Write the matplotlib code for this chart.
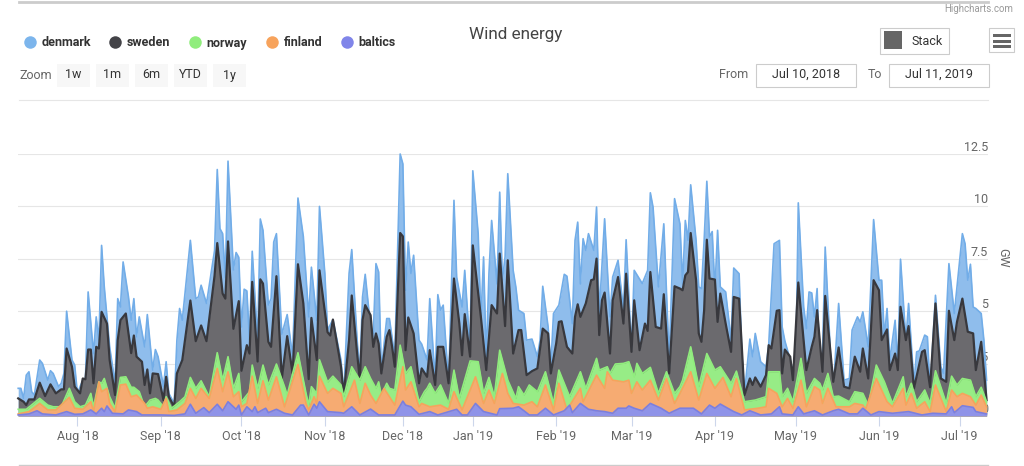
import matplotlib
matplotlib.use("Agg")
import matplotlib.pyplot as plt
from matplotlib.lines import Line2D
from matplotlib.patches import Rectangle

plt.rcParams['font.family'] = ['Roboto', 'DejaVu Sans']

# x is the sample number: the axis is ordinal, so Dec '18 is a bit shorter
month_pos = [22, 53, 83, 114, 143, 169, 200, 228, 259, 289, 320, 350]
month_labels = ["Aug '18", "Sep '18", "Oct '18", "Nov '18", "Dec '18", "Jan '19",
                "Feb '19", "Mar '19", "Apr '19", "May '19", "Jun '19", "Jul '19"]
y_ticks = [0, 2.5, 5, 7.5, 10, 12.5]
y_labels = ["0", "2.5", "5", "7.5", "10", "12.5"]

# stack tops in GW
denmark_x = [0, 1, 2, 3, 4, 5, 6, 8, 9, 11, 12, 13, 15, 16, 17, 18, 20, 21, 22, 24, 25, 26, 28, 29, 30, 31, 32, 34, 36, 37,
             38, 39, 41, 42, 43, 44, 45, 47, 48, 50, 51, 52, 54, 55, 56, 58, 59, 60, 61, 64, 66, 67, 68, 70, 73, 74, 75, 76, 77, 78,
             80, 81, 82, 83, 84, 85, 86, 87, 89, 90, 91, 93, 94, 95, 96, 98, 100, 102, 104, 106, 108, 109, 111, 112, 114, 115, 117, 120,
             121, 123, 124, 126, 127, 128, 129, 131, 132, 133, 134, 135, 137, 138, 140, 142, 143, 144, 145, 146, 147, 149, 150, 152, 153, 155, 156, 157, 158, 160,
             162, 163, 165, 166, 168, 169, 171, 172, 173, 174, 175, 176, 178, 179, 180, 181, 182, 184, 185, 186, 188, 189, 191, 193, 194, 195, 197, 198, 199, 201,
             203, 204, 206, 207, 208, 209, 210, 211, 212, 214, 215, 216, 218, 220, 221, 223, 225, 226, 228, 229, 232, 234, 235, 236, 238, 240, 242, 244, 246,
             247, 248, 249, 250, 252, 253, 254, 255, 256, 257, 258, 259, 260, 261, 263, 265, 266, 268, 269, 270, 272, 273, 274, 276, 278, 279, 281, 283, 284, 285,
             287, 289, 290, 292, 293, 294, 295, 296, 297, 298, 299, 300, 302, 303, 305, 307, 309, 310, 312, 313, 314, 316, 318, 320, 321, 322, 323, 324, 326, 327,
             328, 330, 331, 333, 334, 335, 337, 338, 339, 341, 343, 344, 346, 348, 349, 351, 352, 353, 354, 355, 356, 358, 359, 360]
denmark_top = [1.32, 1.32, .84, 1.95, 2.11, 1.16, 1.0, 2.67, 2.51, 1.71, 2.16, 2.03, 1.40, 1.56, 2.03, 5.0, 2.67, 2.43, 1.08, 1.71, 1.79, 5.92, 2.98, 4.73, 3.6, 8.14, 6.16, 3.30, 1.56, 5.6,
               5.2, 7.35, 5.68, 4.57, 5.6, 3.78, 4.73, 3.30, 4.84, 2.19, 3.17, 2.83, 1.40, 2.59, 1.08, .60, 3.62, 5.13, 4.57, 8.38, 5.6, 5.68, 6.24, 5.37, 7.9, 11.76, 8.94, 8.7, 6.6, 12.16,
               6.97, 7.8, 7.57, 4.25, 6.05, 5.97, 3.62, 7.86, 3.62, 9.4, 8.86, 5.3, 5.6, 8.3, 8.7, 3.9, 4.84, 2.83, 10.4, 8.56, 4.73, 7.1, 4.57, 10.0, 6.8, 4.1, 4.6, 2.67,
               1.0, 6.8, 7.94, 3.62, 2.03, 5.68, 6.76, 4.25, 3.94, 7.27, 6.87, 2.19, 4.65, 4.65, 2.83, 12.5, 12.03, 6.0, 8.3, 6.8, 7.67, 3.62, 3.43, 2.67, 5.6, 1.71, 5.79, 5.05, 5.29, 1.56,
               10.29, 6.63, 5.2, 6.95, 3.14, 11.7, 8.7, 4.57, 7.59, 2.67, 6.79, 9.33, 6.3, 10.68, 6.48, 7.6, 11.56, 6.95, 6.16, 5.05, 4.89, 3.62, 3.67, 2.83, 3.62, 6.19, 4.25, 2.35, 4.89, 5.29,
               6.76, 6.67, 4.41, 8.38, 9.25, 6.3, 8.46, 7.9, 8.7, 7.9, 9.97, 4.89, 9.41, 4.73, 6.63, 7.43, 5.05, 8.41, 3.14, 6.95, 6.32, 6.95, 10.65, 9.97, 6.16, 9.17, 2.67, 10.37, 9.17,
               6.3, 9.33, 8.38, 11.03, 8.38, 6.16, 6.08, 8.38, 11.2, 8.54, 8.8, 6.0, 8.86, 6.16, 5.92, 3.62, 7.06, 6.79, 2.98, 1.08, 3.67, 2.83, 3.94, 2.59, 2.35, 3.38, 8.22, 8.38, 4.25, 3.59,
               2.67, 1.63, 10.17, 5.2, 4.17, 5.92, 5.87, 4.73, 6.08, 2.19, 3.0, 8.06, 2.83, 1.24, 5.37, 1.71, 1.79, 4.1, 4.73, 4.49, 4.97, 3.3, 9.37, 6.48, 6.48, 3.78, 5.13, 2.67, 4.57, 2.35,
               7.48, 3.62, 5.37, 1.56, 3.06, 3.11, 3.86, 3.78, 1.24, 5.76, 2.35, 2.03, 7.27, 4.89, 6.16, 8.7, 8.22, 6.48, 7.24, 5.2, 5.13, 4.89, 3.62, 1.71]

sweden_x = [0, 2, 3, 4, 6, 8, 10, 12, 14, 16, 17, 18, 20, 21, 23, 24, 25, 26, 27, 28, 29, 30, 31, 33, 34, 36, 37, 38, 40, 42,
            43, 44, 46, 47, 48, 49, 50, 52, 54, 55, 56, 58, 59, 61, 64, 66, 68, 70, 73, 74, 76, 77, 78, 80, 82, 83, 85, 86, 87, 89,
            90, 91, 93, 94, 96, 98, 100, 102, 104, 106, 108, 109, 111, 112, 115, 116, 117, 120,
            121, 123, 124, 126, 127, 128, 129, 131, 132, 133, 134, 135, 137, 138, 139, 140, 142, 143, 144, 145, 147, 149, 150, 152, 153, 155, 156, 158, 160,
            162, 164, 165, 166, 168, 169, 172, 174, 176, 178, 179, 181, 182, 184, 186, 187, 189, 191, 193, 195, 197, 198, 200, 201, 202, 204, 206,
            207, 208, 209, 211, 213, 214, 215, 216, 217, 218, 220, 221, 223, 225, 226, 228, 229, 231, 233, 234, 235, 237, 239, 240, 242, 244, 246,
            247, 248, 249, 250, 252, 253, 254, 255, 256, 257, 259, 260, 261, 263, 265, 266, 268, 270, 272, 273, 274, 276, 278, 279, 280, 282, 283, 284, 285, 287,
            288, 290, 293, 295, 296, 297, 299, 300, 303, 305, 307, 309, 311, 313, 314, 316, 318, 320, 321, 323, 324, 326, 327, 328, 330, 331, 333, 336, 337, 339,
            341, 343, 345, 346, 348, 349, 351, 353, 355, 356, 358, 360]
sweden_top = [.84, .68, .52, .79, .79, 1.59, .95, 1.51, 1.08, 1.27, 1.27, 3.22, 2.35, 1.40, 1.08, 1.79, 1.75, 3.17, 3.17, 1.56, 3.30, 3.22, 4.97, 4.41, 2.67, 1.0, 3.62, 4.57, 4.89, 3.0,
              3.84, 2.83, 2.59, 1.48, 2.22, 1.08, 2.03, 2.0, .76, 1.87, .92, .44, 2.03, 2.67, 5.51, 3.57, 4.32, 3.57, 6.7, 8.25, 5.84, 5.6, 8.33, 4.16, 5.48, 2.16, 3.38, 2.98, 6.4, 2.6,
              6.52, 6.32, 3.54, 3.3, 6.67, 1.79, 3.81, 2.03, 7.24, 5.37, 1.76, 4.68, 2.67, 6.95, 4.0, 3.84, 4.6, 2.35,
              1.0, 3.62, 5.75, 2.98, 1.71, 4.57, 5.29, 4.81, 3.3, 3.94, 3.46, 2.03, 3.78, 4.1, 3.3, 2.35, 8.73, 8.57, 3.14, 4.7, 3.94, 1.56, 2.27, 1.87, 3.14, 1.48, 3.3, 3.3, 1.56,
              6.56, 4.41, 2.9, 4.86, 2.83, 8.14, 4.73, 2.19, 5.29, 4.89, 7.75, 4.29, 7.43, 2.98, 4.1, 4.1, 1.95, 2.14, 2.27, 4.17, 3.94, 2.03, 3.46, 4.49, 4.52, 3.3, 2.98,
              4.73, 5.33, 4.73, 5.37, 6.48, 6.52, 7.51, 3.86, 5.52, 5.89, 2.98, 5.52, 6.63, 4.41, 6.79, 3.06, 5.52, 3.14, 4.41, 4.06, 6.87, 4.25, 4.17, 5.81, 2.03, 6.19, 6.08,
              6.0, 6.71, 6.87, 8.73, 6.48, 3.94, 3.54, 5.05, 8.41, 6.56, 6.51, 4.49, 5.84, 4.41, 3.06, 5.68, 5.6, 1.0, 1.79, 1.48, 1.84, 1.4, 1.95, 3.38, 3.22, 5.02, 5.05, 2.03, 3.17, 2.83,
              1.71, 6.37, 2.19, 3.3, 3.78, 5.05, 2.11, 5.73, 1.63, 3.27, 1.4, 1.32, 2.83, 2.11, 3.22, 1.79, 6.48, 6.0, 3.62, 4.13, 2.19, 2.98, 2.19, 5.21, 3.62, 4.29, 1.32, 3.06, 3.14, 1.37,
              5.37, 1.79, 1.63, 5.02, 3.62, 4.49, 5.6, 4.02, 3.94, 2.19, 3.54, .76]

norway_x = [0, 3, 8, 11, 13, 16, 19, 21, 23, 25, 27, 28, 30, 31, 32, 34, 36, 38, 40, 42, 43, 45, 47, 49, 51, 52, 54, 55, 57, 60,
            62, 64, 66, 68, 71, 74, 76, 78, 80, 82, 83, 86, 87, 89, 91, 93, 96, 99, 100, 104, 107, 108, 109, 111, 112, 115, 117, 120,
            121, 124, 127, 129, 131, 133, 134, 135, 137, 138, 140, 142, 144, 146, 149, 151, 152, 153, 155, 157, 160, 162, 164, 168, 171, 173, 175, 177, 179, 182,
            185, 186, 188, 190, 193, 196, 199, 201, 205, 209, 211, 215, 216, 219, 220, 222, 225, 227, 229, 230, 232, 235, 238, 241, 244, 246,
            247, 250, 253, 256, 259, 261, 265, 267, 270, 274, 278, 279, 283, 284, 286, 288, 291, 293, 296, 298, 299, 301, 303, 305, 309, 311, 314, 316, 319, 322,
            325, 329, 330, 332, 334, 337, 339, 341, 345, 347, 349, 351, 354, 356, 358, 360]
norway_top = [.32, .32, .84, .52, .44, .44, 1.32, .68, .44, .52, 1.08, .44, 1.63, 1.56, 1.79, .92, .37, 1.84, 1.87, 1.37, 1.37, 1.16, .44, .76, .84, .76, .44, .92, .37, .68,
              .92, 1.84, 1.32, 1.68, .92, 3.02, 1.71, 2.83, 1.32, 2.03, .68, 1.16, 2.43, 1.32, 2.43, 1.48, 2.48, 1.40, 1.0, 3.02, 1.08, .52, 1.40, 1.08, 2.68, 1.62, 1.9, 1.48,
              .92, 2.35, 1.71, 2.35, 1.79, 1.32, 1.63, 1.0, 1.56, 1.32, 1.24, 3.38, 2.03, 2.35, .68, 1.16, 1.32, 1.56, 1.08, 1.48, .6, 2.19, .84, 2.63, 2.59, 1.08, 1.84, .92, 3.14, 1.71,
              .84, 1.4, 1.0, 1.48, 1.16, 2.11, .6, 2.19, .92, 2.11, 1.32, 2.75, 2.19, 2.35, 2.03, 2.48, 2.51, 2.59, 1.87, 2.51, 2.03, 2.32, 1.08, 2.11, 1.08, 1.4,
              1.71, 3.3, 1.4, 2.98, 2.19, 2.35, 1.56, 2.14, .68, .76, .92, 2.11, 2.11, .92, 1.32, .68, 2.75, 1.08, 1.79, 1.56, 1.24, 2.03, .92, .95, .68, 1.16, 1.08, .52, 2.43, 1.63,
              .6, 1.87, .92, 1.56, .68, 1.24, .6, 2.16, .6, 1.9, 1.48, 1.79, 1.71, .92, 1.37, .68]

finland_x = [0, 4, 8, 11, 14, 19, 21, 24, 27, 28, 30, 31, 33, 34, 36, 38, 40, 42, 44, 47, 48, 50, 53, 55, 56, 59, 62, 64, 66, 68,
             71, 74, 76, 78, 80, 82, 83, 85, 87, 89, 91, 93, 96, 99, 104, 107, 108, 110, 111, 112, 115, 117, 120,
             121, 125, 127, 129, 131, 133, 136, 138, 140, 143, 144, 146, 149, 150, 153, 157, 160, 162, 165, 170, 173, 175, 177, 180, 182, 184,
             188, 191, 193, 196, 199, 201, 204, 209, 210, 215, 218, 219, 221, 225, 227, 228, 230, 232, 235, 238, 241, 244, 246,
             250, 253, 256, 259, 262, 265, 267, 270, 275, 278, 279, 282, 284, 286, 288, 291, 293, 296, 298, 299, 301, 304, 309, 311, 314, 315, 319, 323,
             325, 329, 330, 332, 334, 337, 339, 341, 345, 347, 349, 351, 354, 356, 358, 360]
finland_top = [.1, .21, .6, .29, .29, .89, .37, .32, .68, .21, 1.63, 1.16, 1.32, .6, .21, 1.48, 1.52, .92, 1.0, .6, .37, .44, .32, .84, .21, .29, .6, 1.32, .84, 1.32,
               .84, 2.27, 1.16, 2.11, .92, 1.16, .44, .6, 1.90, .6, 1.68, .76, 1.87, .44, 2.46, .6, .29, .92, .6, 1.9, 1.08, 1.32, 1.08,
               .44, 1.71, .6, 1.56, 1.0, .6, 1.32, .92, .52, 2.35, 1.24, 1.63, .44, .6, .44, .52, .32, 1.16, .29, 1.87, .6, 1.24, .6, 2.03, 1.08, .6,
               .52, .68, .44, 1.48, .29, 1.56, .29, 1.32, .68, 1.95, 1.32, 2.11, 1.71, 1.63, 1.71, 1.08, 1.63, 1.24, 1.71, .76, 1.79, .6, 1.08,
               2.11, .76, 2.03, 1.32, 1.84, .92, 1.79, .29, .37, .44, 1.32, 1.08, .44, .84, .37, 1.71, .44, 1.4, 1.24, .6, 1.32, .44, .44, .6, .52, .32, 1.79, .68,
               .44, 1.32, .52, 1.08, .37, .68, .21, 1.48, .21, 1.24, .92, 1.08, .92, .52, 1.0, .44]

baltics_x = [0, 4, 7, 9, 14, 18, 21, 24, 27, 29, 31, 32, 33, 35, 39, 41, 44, 46, 53, 58, 62, 64, 66, 69, 71, 74, 76, 78, 81, 82,
             83, 85, 87, 88, 89, 92, 93, 96, 99, 102, 105, 106, 108, 110, 111, 112, 115, 120,
             121, 124, 127, 131, 134, 140, 143, 144, 146, 149, 153, 156, 163, 165, 167, 170, 173, 178, 179, 184, 186, 188, 190, 193, 196, 199,
             203, 205, 206, 209, 212, 215, 218, 221, 223, 226, 227, 229, 232, 235, 239, 242, 246,
             247, 251, 254, 257, 259, 261, 266, 269, 272, 276, 280, 283, 284, 288, 290, 292, 296, 299, 303, 305, 309, 312, 314, 317, 320, 325, 331, 336, 340, 345,
             347, 348, 351, 355, 356, 360]
baltics_top = [.05, .1, .25, .1, .05, .21, .08, .1, .29, .1, .37, .21, .48, .13, .1, .29, .21, .05, .05, .03, .1, .56, .13, .4, .16, .56, .25, .68, .32, .52,
               .05, .44, .21, .44, .16, .37, .16, .32, .13, .05, .52, .52, .05, .56, .37, .68, .21, .16,
               .13, .44, .05, .33, .05, .05, .71, .52, .44, .08, .21, .05, .32, .05, .05, .6, .21, .05, .35, .37, .44, .25, .05, .05, .37, .05,
               .25, .52, .16, .6, .32, .25, .21, .13, .37, .37, .48, .37, .25, .6, .37, .13, .37,
               .37, .37, .1, .52, .37, .57, .21, .05, .25, .05, .1, .44, .1, .05, .44, .1, .25, .05, .25, .32, .1, .1, .37, .05, .21, .13, .21, .05, .13, .1,
               .44, .16, .49, .41, .21, .1]

W, H = 1024, 466
fig = plt.figure(figsize=(W / 100, H / 100), dpi=100)
ax = fig.add_axes([18.2 / W, 1 - 416 / H, (988.2 - 18.2) / W, (416 - 154) / H])

layers = [
    (denmark_x, denmark_top, '#8fbdec', '#72ade8', 1.2),
    (sweden_x, sweden_top, '#6b6a6e', '#38383d', 1.6),
    (norway_x, norway_top, '#97ec86', '#90ed7d', 1.2),
    (finland_x, finland_top, '#f6ab72', '#f7a35c', 1.2),
    (baltics_x, baltics_top, '#8f93e8', '#7a7fe0', 1.2),
]
for i, (x, top, fill, line, lw) in enumerate(layers):
    ax.fill_between(x, 0, top, color=fill, lw=0, zorder=2 + i)
    ax.plot(x, top, color=line, lw=lw, zorder=2 + i, clip_on=False, solid_joinstyle='round')

ax.set_xlim(0, 360.6)
ax.set_ylim(0, 12.5)
for s in ax.spines.values():
    s.set_visible(False)
ax.set_xticks(month_pos)
ax.set_xticklabels(month_labels, fontsize=9, color='#666666')
ax.tick_params(axis='x', length=7, width=0.8, color='#ccd6eb', pad=3)
ax.set_yticks(y_ticks)
ax.set_yticklabels(y_labels, fontsize=9, color='#666666')
ax.yaxis.tick_right()
ax.tick_params(axis='y', length=0, pad=0)
for lab in ax.get_yticklabels():
    lab.set_ha('right')
    lab.set_va('bottom')
    lab.set_zorder(10)
ax.yaxis.set_zorder(10)
ax.grid(axis='y', color='#e6e6e6', lw=0.8, zorder=0)
ax.set_axisbelow(True)

# legend
names = ['denmark', 'sweden', 'norway', 'finland', 'baltics']
dot_colors = ['#7cb5ec', '#434348', '#90ed7d', '#f7a35c', '#8085e9']
handles = [Line2D([], [], ls='', marker='o', ms=9, mew=0, color=c) for c in dot_colors]
fig.legend(handles, names, ncol=5, frameon=False, loc='center left', bbox_to_anchor=(22 / W, 1 - 43 / H),
           prop={'family': 'Roboto', 'weight': 'bold', 'size': 9}, labelcolor='#333333',
           handletextpad=0.35, columnspacing=1.35, borderaxespad=0, borderpad=0, handlelength=1.2)

fig.suptitle('Wind energy', x=516 / W, y=1 - 35 / H, fontsize=12.3, color='#444444', va='center')


def txt(x, y, s, size=9, color='#666666', ha='center', **kw):
    fig.text(x / W, 1 - y / H, s, fontsize=size, color=color, ha=ha, va='center', **kw)


def box(x0, y0, x1, y1, face, edge='none', lw=0.0):
    fig.add_artist(Rectangle((x0 / W, 1 - y1 / H), (x1 - x0) / W, (y1 - y0) / H, transform=fig.transFigure,
                             facecolor=face, edgecolor=edge, lw=lw))


# range selector
txt(19, 75.5, 'Zoom', ha='left')
for x0, label in zip([57, 96, 135, 174, 213], ['1w', '1m', '6m', 'YTD', '1y']):
    box(x0, 64, x0 + 33, 87, '#f7f7f7')
    txt(x0 + 16.5, 75, label, color='#333333')

# date inputs
txt(734, 75, 'From')
box(756, 64, 856, 87, 'white', '#cccccc', 0.8)
txt(806, 74.5, 'Jul 10, 2018', color='#333333')
txt(875, 75, 'To')
box(889, 64, 989, 87, 'white', '#cccccc', 0.8)
txt(939, 74.5, 'Jul 11, 2019', color='#333333')

# stack button and menu
box(880, 28, 949, 54, 'white', '#cccccc', 0.8)
box(884, 31, 902, 49, '#666666')
txt(927, 41.5, 'Stack', color='#333333')
box(989, 28, 1014, 52, 'white', '#cccccc', 0.8)
for y in [34, 40, 45]:
    box(993, y, 1011, y + 3, '#666666')

txt(1013, 9, 'Highcharts.com', size=7, color='#999999', ha='right')
txt(1003, 258, 'GW', rotation=270)

# separators
for y, c, lw in [(2, '#cccccc', 2.0), (100, '#e6e6e6', 0.8), (465, '#cccccc', 1.0)]:
    fig.add_artist(Line2D([19 / W, 988 / W], [1 - y / H, 1 - y / H], color=c, lw=lw))

fig.savefig('out.png', dpi=100)
